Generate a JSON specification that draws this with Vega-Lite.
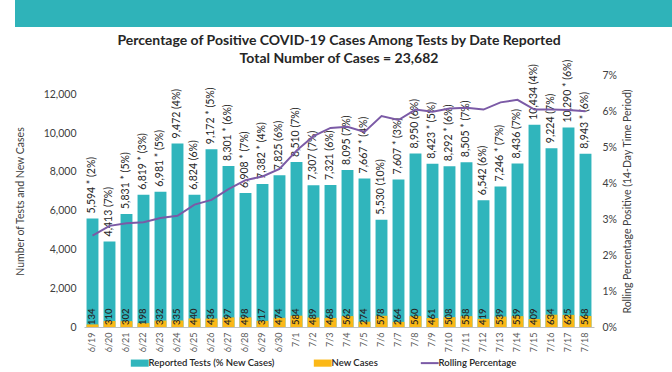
{
  "$schema": "https://vega.github.io/schema/vega-lite/v6.json",
  "padding": {"left": 15, "top": 0, "right": 0, "bottom": 0},
  "background": "white",
  "spacing": 6,
  "center": true,
  "config": {
    "font": "Lato",
    "view": {"stroke": null}
  },
  "vconcat": [
    {
      "width": 687,
      "height": 27,
      "view": {"fill": "#2fb3b9", "stroke": null},
      "data": {"values": []},
      "mark": {"type": "text"}
    },
    {
      "width": 510,
      "height": 252,
      "title": {
        "text": ["Percentage of Positive COVID-19 Cases Among Tests by Date Reported", "Total Number of Cases = 23,682"],
        "fontSize": 14,
        "fontWeight": "bold",
        "font": "Lato",
        "color": "#262626",
        "lineHeight": 18,
        "anchor": "middle",
        "frame": "group",
        "offset": -7
      },
      "data": {
        "values": [
          {"date": "6/19", "tests": 5594, "newCases": 134, "label": "5,594 * (2%)", "rolling": 0.0254},
          {"date": "6/20", "tests": 4413, "newCases": 310, "label": "4,413   (7%)", "rolling": 0.0281},
          {"date": "6/21", "tests": 5831, "newCases": 302, "label": "5,831 * (5%)", "rolling": 0.0288},
          {"date": "6/22", "tests": 6819, "newCases": 198, "label": "6,819 * (3%)", "rolling": 0.0291},
          {"date": "6/23", "tests": 6981, "newCases": 332, "label": "6,981 * (5%)", "rolling": 0.0303},
          {"date": "6/24", "tests": 9472, "newCases": 335, "label": "9,472   (4%)", "rolling": 0.0309},
          {"date": "6/25", "tests": 6824, "newCases": 440, "label": "6,824   (6%)", "rolling": 0.0340},
          {"date": "6/26", "tests": 9172, "newCases": 436, "label": "9,172 * (5%)", "rolling": 0.0353},
          {"date": "6/27", "tests": 8301, "newCases": 497, "label": "8,301 * (6%)", "rolling": 0.0383},
          {"date": "6/28", "tests": 6908, "newCases": 498, "label": "6,908 * (7%)", "rolling": 0.0408},
          {"date": "6/29", "tests": 7382, "newCases": 317, "label": "7,382 * (4%)", "rolling": 0.0418},
          {"date": "6/30", "tests": 7825, "newCases": 474, "label": "7,825   (6%)", "rolling": 0.0439},
          {"date": "7/1", "tests": 8510, "newCases": 584, "label": "8,510   (7%)", "rolling": 0.0490},
          {"date": "7/2", "tests": 7307, "newCases": 489, "label": "7,307   (7%)", "rolling": 0.0530},
          {"date": "7/3", "tests": 7321, "newCases": 468, "label": "7,321   (6%)", "rolling": 0.0553},
          {"date": "7/4", "tests": 8095, "newCases": 562, "label": "8,095   (7%)", "rolling": 0.0556},
          {"date": "7/5", "tests": 7667, "newCases": 274, "label": "7,667 * (4%)", "rolling": 0.0542},
          {"date": "7/6", "tests": 5530, "newCases": 578, "label": "5,530   (10%)", "rolling": 0.0586},
          {"date": "7/7", "tests": 7607, "newCases": 264, "label": "7,607 * (3%)", "rolling": 0.0575},
          {"date": "7/8", "tests": 8950, "newCases": 560, "label": "8,950   (6%)", "rolling": 0.0604},
          {"date": "7/9", "tests": 8423, "newCases": 461, "label": "8,423 * (5%)", "rolling": 0.0598},
          {"date": "7/10", "tests": 8292, "newCases": 508, "label": "8,292 * (6%)", "rolling": 0.0607},
          {"date": "7/11", "tests": 8505, "newCases": 558, "label": "8,505 * (7%)", "rolling": 0.0609},
          {"date": "7/12", "tests": 6542, "newCases": 419, "label": "6,542   (6%)", "rolling": 0.0604},
          {"date": "7/13", "tests": 7246, "newCases": 539, "label": "7,246 * (7%)", "rolling": 0.0624},
          {"date": "7/14", "tests": 8436, "newCases": 559, "label": "8,436   (7%)", "rolling": 0.0631},
          {"date": "7/15", "tests": 10434, "newCases": 409, "label": "10,434   (4%)", "rolling": 0.0604},
          {"date": "7/16", "tests": 9224, "newCases": 634, "label": "9,224   (7%)", "rolling": 0.0604},
          {"date": "7/17", "tests": 10290, "newCases": 625, "label": "10,290 * (6%)", "rolling": 0.0603},
          {"date": "7/18", "tests": 8943, "newCases": 568, "label": "8,943 * (6%)", "rolling": 0.0599}
        ]
      },
      "encoding": {
        "x": {
          "field": "date",
          "type": "ordinal",
          "sort": null,
          "scale": {"paddingInner": 0.3, "paddingOuter": 0.15},
          "axis": {
            "title": null,
            "labelAngle": 270,
            "labelFontSize": 9,
            "labelColor": "#595959",
            "labelPadding": 5,
            "ticks": false,
            "domainColor": "#bfbfbf",
            "labelAlign": "right",
            "labelBaseline": "middle"
          }
        }
      },
      "layer": [
        {
          "layer": [
            {
              "mark": {"type": "bar"},
              "encoding": {
                "y": {
                  "field": "tests",
                  "type": "quantitative",
                  "scale": {"domain": [0, 13000], "nice": false},
                  "axis": {
                    "title": "Number of Tests and New Cases",
                    "titleFontSize": 10.5,
                    "titleFontWeight": "normal",
                    "titleColor": "#404040",
                    "titlePadding": 18,
                    "values": [0, 2000, 4000, 6000, 8000, 10000, 12000],
                    "format": ",.0f",
                    "grid": false,
                    "domain": false,
                    "ticks": false,
                    "labelFontSize": 10.5,
                    "labelColor": "#404040",
                    "labelPadding": 8
                  }
                },
                "color": {
                  "datum": "Reported Tests (% New Cases)",
                  "scale": {
                    "domain": ["Reported Tests (% New Cases)", "New Cases", "Rolling Percentage"],
                    "range": ["#30b5bc", "#fbb817", "#7b5aa6"]
                  },
                  "legend": {
                    "orient": "none",
                    "legendX": 120,
                    "legendY": 358,
                    "direction": "horizontal",
                    "title": null,
                    "labelFontSize": 9.5,
                    "labelFontWeight": 600,
                    "labelColor": "#262626",
                    "symbolSize": 320,
                    "columnPadding": 38,
                    "encode": {
                      "symbols": {
                        "update": {
                          "shape": {"signal": "datum.value === 'Rolling Percentage' ? 'stroke' : 'M-1,-0.4H1V0.4H-1Z'"},
                          "fill": {"signal": "datum.value === 'Rolling Percentage' ? 'transparent' : scale('color', datum.value)"},
                          "stroke": {"signal": "scale('color', datum.value)"},
                          "strokeWidth": {"signal": "datum.value === 'Rolling Percentage' ? 2 : 0"},
                          "opacity": {"value": 1},
                          "fillOpacity": {"value": 1}
                        }
                      }
                    }
                  }
                }
              }
            },
            {
              "mark": {"type": "bar"},
              "encoding": {
                "y": {"field": "newCases", "type": "quantitative"},
                "color": {"datum": "New Cases"}
              }
            },
            {
              "mark": {"type": "text", "angle": 270, "align": "left", "baseline": "middle", "dx": 5, "fontSize": 10.5, "color": "#262626"},
              "encoding": {
                "y": {"field": "tests", "type": "quantitative"},
                "text": {"field": "label"}
              }
            },
            {
              "mark": {"type": "text", "angle": 270, "align": "left", "baseline": "middle", "dx": 2, "fontSize": 9.5, "fontWeight": 600, "color": "#262626"},
              "encoding": {
                "y": {"datum": 0, "type": "quantitative"},
                "text": {"field": "newCases", "type": "quantitative"}
              }
            }
          ]
        },
        {
          "mark": {"type": "line", "strokeWidth": 2, "color": "#7b5aa6"},
          "encoding": {
            "y": {
              "field": "rolling",
              "type": "quantitative",
              "scale": {"domain": [0, 0.07], "nice": false},
              "axis": {
                "orient": "right",
                "title": "Rolling Percentage Positive (14-Day Time Period)",
                "titleFontSize": 10.5,
                "titleFontWeight": "normal",
                "titleColor": "#404040",
                "titlePadding": 6,
                "titleAngle": 270,
                "titleBaseline": "top",
                "values": [0, 0.01, 0.02, 0.03, 0.04, 0.05, 0.06, 0.07],
                "format": ".0%",
                "grid": false,
                "domain": false,
                "ticks": false,
                "labelFontSize": 10.5,
                "labelColor": "#404040",
                "labelPadding": 8
              }
            },
            "color": {"datum": "Rolling Percentage"}
          }
        }
      ],
      "resolve": {"scale": {"y": "independent"}}
    }
  ]
}
